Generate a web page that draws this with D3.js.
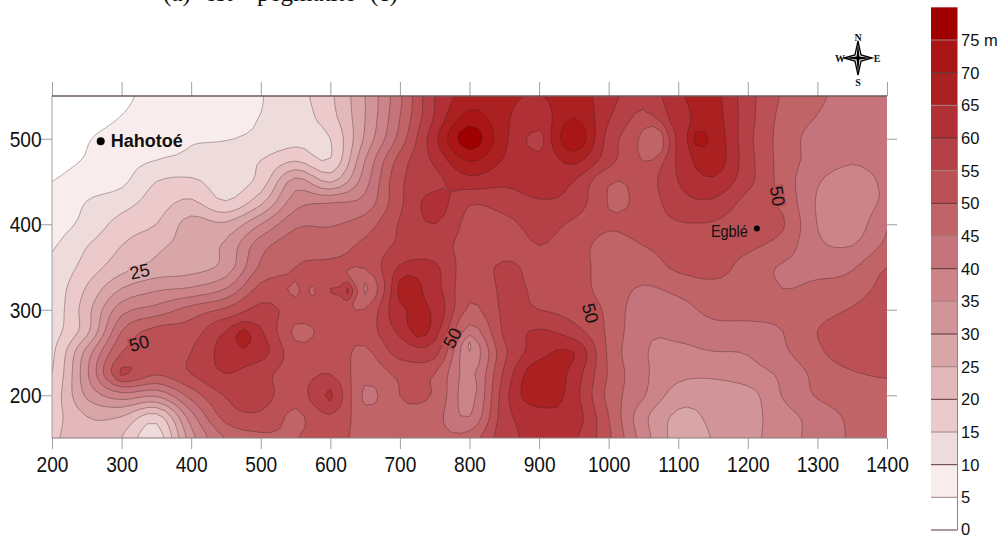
<!DOCTYPE html>
<html><head><meta charset="utf-8">
<script src="https://cdn.jsdelivr.net/npm/d3@7"></script>
<style>html,body{margin:0;padding:0;background:#fff}svg{display:block}text{font-family:"Liberation Sans",Arial,sans-serif;fill:#111}</style>
</head><body><svg id="c" width="1002" height="537"></svg>
<script>
const xValues=[200,250,300,350,400,450,500,550,600,650,700,750,800,850,900,950,1000,1050,1100,1150,1200,1250,1300,1350,1400];
const yValues=[550,525,500,475,450,425,400,375,350,325,300,275,250,225,200,175,150];
const row550=[1,3,4.5,5.8,7,8.5,9.8,13,19,30,44,60,67,66,64.7,67.5,62,56.5,64,66.5,57,49.4,45.8,43.5,43];
const row525=[.5,3.3,5.1,6.3,7.2,8.8,10.1,12.5,18,30,45,60.5,72,66,62,70,60.5,54,62.5,67,57,48.5,44.8,42,42];
const row500=[1.5,4.7,6.5,8.5,9.6,9.8,11,13.3,15,31,47,63.5,78,66,60.5,74,58,52,62,68,56.5,48,43,41,42];
const row475=[3.3,5.4,8,10,11,12.3,15,19.5,15.3,35,52,61,70.5,64.5,61,66.5,57,50.5,61,68,57,48,43,40.5,42];
const row450=[5,7.5,9,15,16,12.5,17,32,24.5,38,54,58.5,63,61,62,60,50.5,52,60,64,56.5,48,40.5,37.5,41];
const row425=[6.5,10.2,13,17.5,21,15.5,24,38,40,42,54,62,55.5,57,59.5,58,49.8,51.5,58,59,53,49,39.5,37,41];
const row400=[8,11.5,17,20,27,26,35,44,44.5,47.5,55.5,60,53.5,53.5,57,54,50.5,52,54.5,54.5,52,50.5,39.9,37,44.5];
const row375=[9.5,14.8,20,24,27,31,43,48,48.5,51,56,57,53,52,55,52,48.5,50,52,53,51,48,41,40,46];
const row350=[11,17,23,26.5,28,32,46,50,51,50.5,60.5,61,52,56,53,52,48,47.5,51,52,48,44.5,43.5,44.5,50];
const row325=[12,20.5,30,34,35.5,40,51.5,51,55,44,64,62,51,56,54,52,48,44.5,46.5,48.5,48,45,46,47,52];
const row300=[12,23,38,42,47,51,56.5,53,53,50.3,64,64,49,56,55,53,49,41.5,43,46.5,47,46.5,48,50.5,54];
const row275=[13,23.5,45,51.5,52.5,60,60.5,49,52,52,61,62,43,56,60.5,57,49,41,41,43,43,45,50,53,53];
const row250=[14,32,50,52,55,62,62,52,53,49,57,57,37,54,63,65,49,40.5,39,39.8,40.3,44,49,53,53.5];
const row225=[15,34,54,50.5,55,60,56.5,53,55,47,51,50,38.5,56,69,63,49.5,41,36.5,36,38,41,46.5,49.5,50.5];
const row200=[17,31,38,36,47,55.5,57,52,60,44,50,49.5,38,58,69,62,48.5,40.5,32.5,32,33,40.3,45.5,48,48.5];
const row175=[18,25,25,18,38,52,54,49,54.5,47,49,47,40,58,62,62.5,50,36.5,29,31,33,38,42,46,47];
const row150=[19,24,20,12,33,45.5,49,49.8,52,48,47,46,47,58,61,60.8,51,37.5,28,30.3,33.5,37.5,42,45.5,46];
const rows=[row550,row525,row500,row475,row450,row425,row400,row375,row350,row325,row300,row275,row250,row225,row200,row175,row150];
// small closed features: x, y, value, radius
const spots=[[475,268,67,24],[1131,500,72,22],[625,322,61,20],[547,322,48,15],[575,322,48,14],[1065,497,46,34],[300,226,56,12],[600,200,61,12],[650,200,44,14],[800,210,35,12],[800,258,34,16],[897,498,56,16],[712,325,68,26],[728,282,68,26]];
const levels=d3.range(0,80,5);
const bandColors=["#ffffff","#f9ecec","#eedcdd","#ecc9ca","#e2b8bb","#d9a6a8","#d19498","#cc8488","#c4747a","#c06468","#bb5055","#b54045","#b03035","#ab2020","#aa1515","#a00000"];
const xTicks=d3.range(200,1401,100),yTicks=[200,300,400,500];
const legendTicks=d3.range(0,76,5);
const contourLabels=[["25",326,345,-12],["50",325,261,-15],["50",775,267,-62],["50",974,296,75],["50",1243,433,80]];
const places=[["Hahotoé",270,497,"bold"],["Egblé",1213,395,"normal"]];
const titleParts=[["(a)",163],["est",205],["pegmatite",257],["(c)",370]];

const svg=d3.select("#c");
const x=d3.scaleLinear().domain([200,1400]).range([52,887]);
const y=d3.scaleLinear().domain([150,550]).range([438,96]);
const leg=d3.scaleLinear().domain([0,75]).range([530,40]);

// resample the read grid smoothly for drawing
const F=4,nx=xValues.length,ny=yValues.length,W=(nx-1)*F+1,H=(ny-1)*F+1;
const cr=(a,b,c,d,t)=>.5*(2*b+(c-a)*t+(2*a-5*b+4*c-d)*t*t+(3*b-a-3*c+d)*t*t*t);
const at=(i,j)=>rows[Math.max(0,Math.min(ny-1,j))][Math.max(0,Math.min(nx-1,i))];
const field=new Float64Array(W*H);
for(let gj=0;gj<H;gj++)for(let gi=0;gi<W;gi++){
  const i=Math.min(nx-2,Math.floor(gi/F)),j=Math.min(ny-2,Math.floor(gj/F)),u=gi/F-i,v=gj/F-j;
  const col=k=>cr(at(i+k,j-1),at(i+k,j),at(i+k,j+1),at(i+k,j+2),v);
  let val=cr(col(-1),col(0),col(1),col(2),u);
  const X=200+gi*50/F,Y=550-gj*25/F;
  for(const [sx,sy,sv,r] of spots){
    const d2=((X-sx)**2+(Y-sy)**2)/(r*r);
    if(d2<1){const w=(1-d2)**2;val=val*(1-w)+sv*w;}
  }
  field[gj*W+gi]=val;
}
const fieldAt=(X,Y)=>field[Math.round((550-Y)/25*F)*W+Math.round((X-200)/50*F)];
const contours=d3.contours().size([W,H]).smooth(true).thresholds(levels);
const proj=d3.geoTransform({point(px,py){this.stream.point(x(200+(px-.5)*50/F),y(550-(py-.5)*25/F));}});
const path=d3.geoPath(proj);

svg.append("defs").append("clipPath").attr("id","plot").append("rect")
  .attr("x",52).attr("y",96).attr("width",835).attr("height",342);

// outer ticks and frame
const tickCol="#a0a0a0";
const gTop=svg.append("g").attr("transform","translate(0,96)").call(d3.axisTop(x).tickValues(xTicks).tickSize(14).tickFormat(""));
const gRight=svg.append("g").attr("transform","translate(887,0)").call(d3.axisRight(y).tickValues(yTicks).tickSize(10).tickFormat(""));
const gBottom=svg.append("g").attr("transform","translate(0,438)").call(d3.axisBottom(x).tickValues(xTicks).tickSize(11).tickFormat(d3.format("d")));
const gLeft=svg.append("g").attr("transform","translate(52,0)").call(d3.axisLeft(y).tickValues(yTicks).tickSize(11).tickFormat(d3.format("d")));
[gTop,gRight,gBottom,gLeft].forEach(g=>{g.selectAll(".domain").remove();g.selectAll("line").attr("stroke",tickCol);});
gBottom.selectAll("text").attr("font-size",22).attr("y",18).attr("dy","0.71em").attr("transform","scale(.87,1)").style("font-family",'"Liberation Sans"');
gLeft.selectAll("text").attr("font-size",22).attr("x",-12).attr("dy","0.34em").attr("transform","scale(.87,1)").style("font-family",'"Liberation Sans"');

const plot=svg.append("g").attr("clip-path","url(#plot)");
plot.selectAll("path").data(contours(Array.from(field))).join("path")
  .attr("d",path)
  .attr("fill",d=>bandColors[levels.indexOf(d.value)])
  .attr("stroke",d=>d.value===0?"none":"#3a2020").attr("stroke-opacity",.65).attr("stroke-width",.55);
svg.append("path").attr("d",`M${x(200)},${y(150)}V${y(550)}`).attr("stroke","#a0a0a0").attr("fill","none");
svg.append("path").attr("d",`M${x(200)},${y(550)}H${x(1400)}`).attr("stroke","#6e5a5a").attr("stroke-width",1.4).attr("fill","none");
svg.append("path").attr("d",`M${x(200)},${y(150)}H${x(1400)}`).attr("stroke","#8a7a7a").attr("stroke-width",1.2).attr("fill","none");

// contour labels sit in a gap of their line
contourLabels.forEach(([t,lx,ly,rot])=>{
  const g=svg.append("g").attr("transform",`translate(${x(lx)},${y(ly)}) rotate(${rot})`);
  const band=Math.max(0,d3.bisectRight(levels,fieldAt(lx,ly))-1);
  g.append("rect").attr("x",-11).attr("y",-7).attr("width",22).attr("height",14).attr("fill",bandColors[band]);
  g.append("text").text(t).attr("text-anchor","middle").attr("dy","0.36em").attr("font-size",18);
});
// places
places.forEach(([t,px,py,w])=>{
  const bold=w==="bold";
  svg.append("circle").attr("cx",x(px)).attr("cy",y(py)).attr("r",bold?4:3).attr("fill","#000");
  const g=svg.append("text").text(t).attr("font-weight",w).attr("font-size",bold?18:16).attr("dy","0.36em");
  if(bold) g.attr("x",x(px)+10).attr("y",y(py)-1);
  else g.attr("x",x(px)-9).attr("y",y(py)+3).attr("text-anchor","end").attr("textLength",37).attr("lengthAdjust","spacingAndGlyphs");
});

// legend
const lx0=931,lx1=957.5;
svg.append("g").selectAll("rect").data(levels).join("rect")
  .attr("x",lx0).attr("width",lx1-lx0)
  .attr("y",d=>leg(d+5)).attr("height",d=>leg(d)-leg(d+5))
  .attr("fill",(d,i)=>bandColors[i]);
svg.append("g").selectAll("line").data(legendTicks).join("line")
  .attr("x1",lx0).attr("x2",lx1).attr("y1",d=>leg(d)).attr("y2",d=>leg(d))
  .attr("stroke",d=>d%10===0?"#5a3535":"#a08080").attr("stroke-width",1);
svg.append("path").attr("d",`M${lx1},${leg(65)}V${leg(0)}`).attr("stroke","#888").attr("fill","none");
svg.append("g").selectAll("text").data(legendTicks).join("text")
  .attr("x",961).attr("y",d=>leg(d)-(d===0?1:0)).attr("dy","0.36em").attr("font-size",16.5)
  .text(d=>d===75?"75 m":d);

// title, cut off by the top of the picture as in the source
svg.append("g").selectAll("text").data(titleParts).join("text")
  .attr("x",d=>d[1]).attr("y",.5).attr("font-size",25).style("font-family",'"Liberation Serif"').text(d=>d[0]);

// north arrow
const compass=svg.append("g").attr("transform","translate(858,58)");
compass.append("path").attr("d","M0,-17L3,-3L14,0L3,3L0,17L-3,3L-14,0L-3,-3Z").attr("fill","#fff").attr("stroke","#000").attr("stroke-width",1.3);
compass.append("path").attr("d","M0,-17L1.4,-1.4L14,0L1.4,1.4L0,17L-1.4,1.4L-14,0L-1.4,-1.4Z").attr("fill","#000");
[["N",0,-21],["S",0,24],["W",-18,0],["E",19,0]].forEach(([t,a,b])=>compass.append("text").text(t).attr("x",a).attr("y",b).attr("text-anchor","middle").attr("dy","0.36em").attr("font-size",10).attr("font-weight","bold").style("font-family",'"Liberation Serif"'));
</script></body></html>
